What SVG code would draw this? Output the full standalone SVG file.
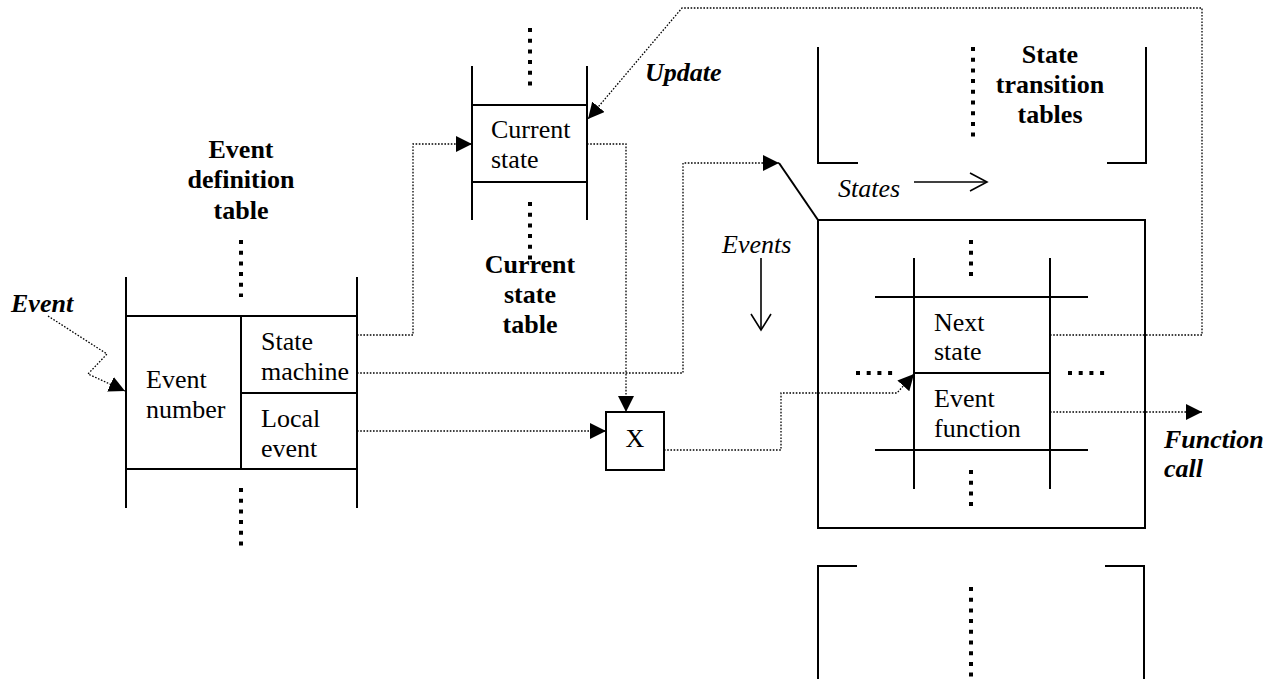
<svg xmlns="http://www.w3.org/2000/svg" width="1277" height="679" viewBox="0 0 1277 679">
<defs>
<style>
.ln{stroke:#000;stroke-width:2;fill:none}
.dots{stroke:#000;stroke-width:4;stroke-dasharray:4 6.7;fill:none}
.dotted{stroke:#000;stroke-width:1.3;stroke-dasharray:1.6 1.6;fill:none}
.t{font-family:"Liberation Serif","Times New Roman",serif;font-size:26px;fill:#000}
.b{font-weight:bold}
.i{font-style:italic}
.c{text-anchor:middle}
</style>
<marker id="arr" markerUnits="userSpaceOnUse" markerWidth="17" markerHeight="16" refX="16" refY="8" orient="auto" viewBox="0 0 17 16">
<path d="M0,0 L16,8 L0,16 z" fill="#000"/>
</marker>
</defs>
<rect width="1277" height="679" fill="#fff"/>

<g id="event-definition-table">
<text class="t b c" x="241" y="158">Event</text>
<text class="t b c" x="241" y="188">definition</text>
<text class="t b c" x="241" y="219">table</text>
<line class="dots" x1="241" y1="240" x2="241" y2="297"/>
<line class="ln" x1="126" y1="277" x2="126" y2="508"/>
<line class="ln" x1="357" y1="277" x2="357" y2="508"/>
<line class="ln" x1="126" y1="316" x2="357" y2="316"/>
<line class="ln" x1="126" y1="469" x2="357" y2="469"/>
<line class="ln" x1="241" y1="316" x2="241" y2="469"/>
<line class="ln" x1="241" y1="393" x2="357" y2="393"/>
<line class="dots" x1="241" y1="488" x2="241" y2="546"/>
<text class="t" x="146" y="388">Event</text>
<text class="t" x="146" y="418">number</text>
<text class="t" x="261" y="350">State</text>
<text class="t" x="261" y="380">machine</text>
<text class="t" x="261" y="427">Local</text>
<text class="t" x="261" y="457">event</text>
</g>

<g id="current-state-table">
<line class="dots" x1="530" y1="28" x2="530" y2="86"/>
<line class="ln" x1="472" y1="66" x2="472" y2="220"/>
<line class="ln" x1="587" y1="66" x2="587" y2="220"/>
<line class="ln" x1="472" y1="105" x2="587" y2="105"/>
<line class="ln" x1="472" y1="182" x2="587" y2="182"/>
<text class="t" x="491" y="138">Current</text>
<text class="t" x="491" y="168">state</text>
<line class="dots" x1="530" y1="202" x2="530" y2="260"/>
<text class="t b c" x="530" y="273">Current</text>
<text class="t b c" x="530" y="303">state</text>
<text class="t b c" x="530" y="333">table</text>
</g>

<g id="x-box">
<rect class="ln" x="606" y="412" width="58" height="58"/>
<text class="t c" x="635" y="447">X</text>
</g>

<g id="state-transition-tables">
<path class="ln" d="M818,47 V163 H858"/>
<path class="ln" d="M1146,47 V163 H1107"/>
<line class="dots" x1="973" y1="47" x2="973" y2="138"/>
<text class="t b c" x="1050" y="63">State</text>
<text class="t b c" x="1050" y="93">transition</text>
<text class="t b c" x="1050" y="123">tables</text>
</g>

<g id="axis-labels">
<text class="t i" x="838" y="197">States</text>
<line class="ln" x1="914" y1="182" x2="986" y2="182" style="stroke-width:1.6"/>
<path class="ln" d="M970,173 L987,182 L970,191" style="stroke-width:1.6"/>
<text class="t i" x="722" y="253">Events</text>
<line class="ln" x1="761" y1="258" x2="761" y2="329" style="stroke-width:1.6"/>
<path class="ln" d="M751,314 L761,330 L771,314" style="stroke-width:1.6"/>
</g>

<g id="state-transition-table">
<rect class="ln" x="818" y="220" width="327" height="308"/>
<line class="dots" x1="971" y1="240" x2="971" y2="278"/>
<line class="ln" x1="875" y1="297" x2="1088" y2="297"/>
<line class="ln" x1="875" y1="450" x2="1088" y2="450"/>
<line class="ln" x1="914" y1="258" x2="914" y2="489"/>
<line class="ln" x1="1050" y1="258" x2="1050" y2="489"/>
<line class="ln" x1="914" y1="373" x2="1050" y2="373"/>
<line class="dots" x1="856" y1="373" x2="894" y2="373"/>
<line class="dots" x1="1068" y1="373" x2="1106" y2="373"/>
<line class="dots" x1="971" y1="470" x2="971" y2="508"/>
<text class="t" x="934" y="331">Next</text>
<text class="t" x="934" y="360">state</text>
<text class="t" x="934" y="407">Event</text>
<text class="t" x="934" y="437">function</text>
</g>

<g id="bottom-table">
<path class="ln" d="M818,679 V566 H857"/>
<path class="ln" d="M1144,679 V566 H1105"/>
<line class="dots" x1="971" y1="587" x2="971" y2="679"/>
</g>

<g id="labels">
<text class="t b i" x="11" y="312">Event</text>
<text class="t b i" x="645" y="81">Update</text>
<text class="t b i" x="1164" y="448">Function</text>
<text class="t b i" x="1164" y="477">call</text>
</g>

<g id="connectors">
<polyline class="dotted" points="48,316 107,354 88,374 125,391" marker-end="url(#arr)"/>
<polyline class="dotted" points="357,335 413,335 413,144 472,144" marker-end="url(#arr)"/>
<polyline class="dotted" points="357,373 683,373 683,163 779,163" marker-end="url(#arr)"/>
<polyline class="dotted" points="357,431 606,431" marker-end="url(#arr)"/>
<polyline class="dotted" points="587,144 626,144 626,412" marker-end="url(#arr)"/>
<polyline class="dotted" points="664,450 781,450 781,393 897,393 914,374" marker-end="url(#arr)"/>
<polyline class="dotted" points="1050,335 1202,335 1202,8 682,8 588,119" marker-end="url(#arr)"/>
<polyline class="dotted" points="1050,412 1202,412" marker-end="url(#arr)"/>
<line class="ln" x1="818" y1="220" x2="779" y2="163"/>
</g>
</svg>
